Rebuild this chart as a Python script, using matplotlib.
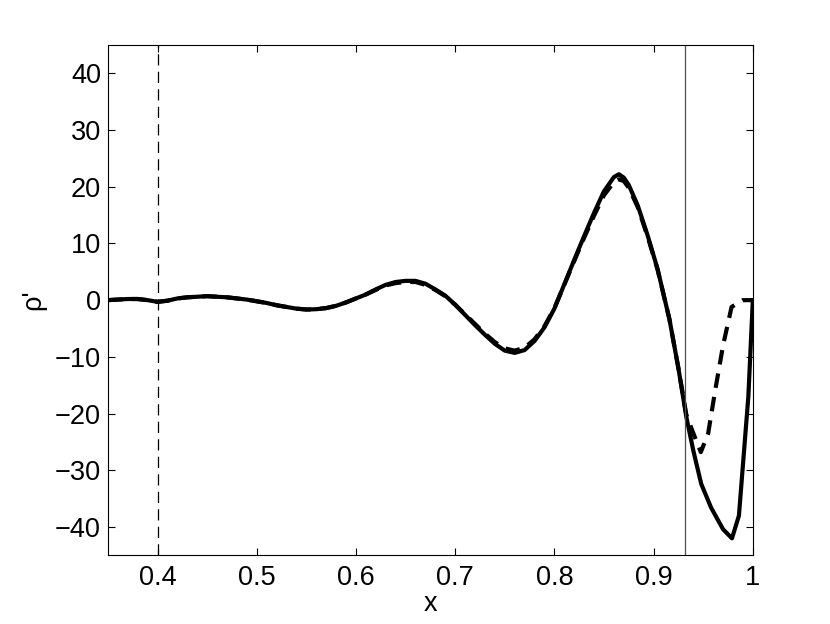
import matplotlib
matplotlib.use('Agg')
import matplotlib.pyplot as plt

plt.rcParams['font.family'] = ['Liberation Sans', 'DejaVu Sans']

# solid curve
x_solid = [0.35, 0.36, 0.37, 0.38, 0.39, 0.40, 0.41, 0.42, 0.43, 0.44,
           0.45, 0.46, 0.47, 0.48, 0.49, 0.50, 0.51, 0.52, 0.53, 0.54,
           0.55, 0.56, 0.57, 0.58, 0.59, 0.60, 0.61, 0.62, 0.63, 0.64,
           0.65, 0.66, 0.67, 0.68, 0.69, 0.70, 0.71, 0.72, 0.73, 0.74,
           0.75, 0.76, 0.77, 0.78, 0.79, 0.80, 0.81, 0.82, 0.83, 0.84,
           0.85, 0.86, 0.865, 0.87, 0.875, 0.884, 0.894, 0.904, 0.916, 0.925,
           0.933, 0.94, 0.948, 0.958, 0.97, 0.979, 0.986, 0.9955, 1.0]
y_solid = [0.0, 0.1, 0.2, 0.2, 0.0, -0.3, -0.1, 0.3, 0.5, 0.6,
           0.7, 0.6, 0.5, 0.3, 0.1, -0.2, -0.5, -0.9, -1.2, -1.5,
           -1.65, -1.6, -1.4, -1.0, -0.4, 0.3, 1.0, 1.9, 2.7, 3.2,
           3.4, 3.4, 2.9, 1.9, 0.8, -0.8, -2.6, -4.4, -6.1, -7.7,
           -8.9, -9.3, -8.8, -7.2, -4.8, -1.5, 2.8, 7.1, 11.3, 15.4,
           19.2, 21.7, 22.2, 21.6, 20.3, 16.7, 11.4, 5.5, -3.4, -12.0,
           -20.6, -26.5, -32.4, -36.6, -40.4, -42.0, -38.0, -17.0, 0.0]

# dashed curve
x_dash = [0.35, 0.36, 0.37, 0.38, 0.39, 0.40, 0.41, 0.42, 0.43, 0.44,
          0.45, 0.46, 0.47, 0.48, 0.49, 0.50, 0.51, 0.52, 0.53, 0.54,
          0.55, 0.56, 0.57, 0.58, 0.59, 0.60, 0.61, 0.62, 0.63, 0.64,
          0.65, 0.66, 0.67, 0.68, 0.69, 0.70, 0.71, 0.72, 0.73, 0.74,
          0.75, 0.76, 0.77, 0.78, 0.79, 0.80, 0.81, 0.82, 0.83, 0.84,
          0.85, 0.86, 0.865, 0.87, 0.875, 0.884, 0.894, 0.904, 0.916, 0.925,
          0.933, 0.939, 0.9476, 0.955, 0.962, 0.97, 0.9786, 0.99, 1.0]
y_dash = [0.0, 0.1, 0.2, 0.2, 0.0, -0.3, -0.1, 0.3, 0.5, 0.6,
          0.7, 0.6, 0.5, 0.3, 0.1, -0.2, -0.5, -0.9, -1.2, -1.5,
          -1.65, -1.6, -1.4, -1.0, -0.4, 0.3, 1.0, 1.8, 2.6, 3.0,
          3.2, 3.2, 2.7, 1.8, 0.7, -0.8, -2.5, -4.2, -5.9, -7.4,
          -8.5, -8.9, -8.4, -6.9, -4.6, -1.4, 2.7, 6.9, 11.0, 14.9,
          18.5, 20.8, 21.3, 21.0, 19.8, 16.4, 11.2, 5.4, -3.4, -12.0,
          -20.2, -23.0, -26.8, -23.5, -16.0, -8.0, -1.2, 0.0, 0.0]

x_line_dashed = 0.4
x_line_solid = 0.932

fig = plt.figure(figsize=(8.3, 6.24), dpi=100)
ax = fig.add_axes([0.13, 0.11, 0.777, 0.818])

ax.plot(x_solid, y_solid, color='k', lw=3)
ax.plot(x_dash, y_dash, color='k', lw=3, dashes=(3.5, 2.2))
ax.axvline(x_line_dashed, color='k', lw=0.9, dashes=(9, 5))
ax.axvline(x_line_solid, color='0.3', lw=0.9)

ax.set_xlim(0.35, 1)
ax.set_ylim(-45, 45)
ax.set_xticks([0.4, 0.5, 0.6, 0.7, 0.8, 0.9, 1.0])
ax.set_xticklabels(['0.4', '0.5', '0.6', '0.7', '0.8', '0.9', '1'])
ax.set_yticks(range(-40, 41, 10))
ax.tick_params(direction='in', top=True, right=True, length=5, width=0.8,
               labelsize=19.5)
ax.tick_params(axis='x', pad=7)
ax.tick_params(axis='y', pad=5)
for s in ax.spines.values():
    s.set_linewidth(0.8)

ax.set_xlabel('x', fontsize=19.5, labelpad=0)
ax.set_ylabel("\u03c1'", fontsize=19.5, labelpad=6)

fig.savefig('out.png', dpi=100)
